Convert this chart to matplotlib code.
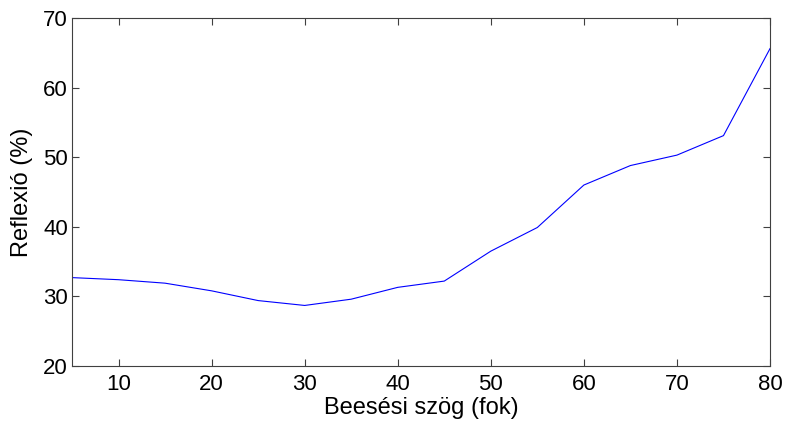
import matplotlib
matplotlib.use("Agg")
import matplotlib.pyplot as plt

# beesési szög (fok) és reflexió (%)
angles = [5, 10, 15, 20, 25, 30, 35, 40, 45, 50, 55, 60, 65, 70, 75, 80]
reflexio = [32.7, 32.4, 31.9, 30.8, 29.4, 28.7, 29.6, 31.3, 32.2, 36.5, 39.9, 46.0, 48.8, 50.3, 53.1, 65.6]

xticks = [10, 20, 30, 40, 50, 60, 70, 80]
yticks = [20, 30, 40, 50, 60, 70]

plt.rcParams['font.family'] = ['Liberation Sans', 'DejaVu Sans']

fig = plt.figure(figsize=(7.87, 4.21), dpi=100)
ax = fig.add_axes([72 / 787, 1 - 366 / 421, 698 / 787, 348 / 421])

ax.plot(angles, reflexio, color='#0000ff', linewidth=0.8)

ax.set_xlim(5, 80)
ax.set_ylim(20, 70)
ax.set_xticks(xticks)
ax.set_yticks(yticks)
ax.tick_params(direction='in', top=True, right=True, length=5, width=0.8,
               colors='#404040', labelcolor='black', labelsize=16)
ax.tick_params(axis='x', pad=6)
ax.tick_params(axis='y', pad=3)
for s in ax.spines.values():
    s.set_color('#404040')
    s.set_linewidth(0.8)

ax.set_xlabel('Beesési szög (fok)', fontsize=17, labelpad=1)
ax.set_ylabel('Reflexió (%)', fontsize=17, labelpad=7)

fig.savefig('out.png', dpi=100)
